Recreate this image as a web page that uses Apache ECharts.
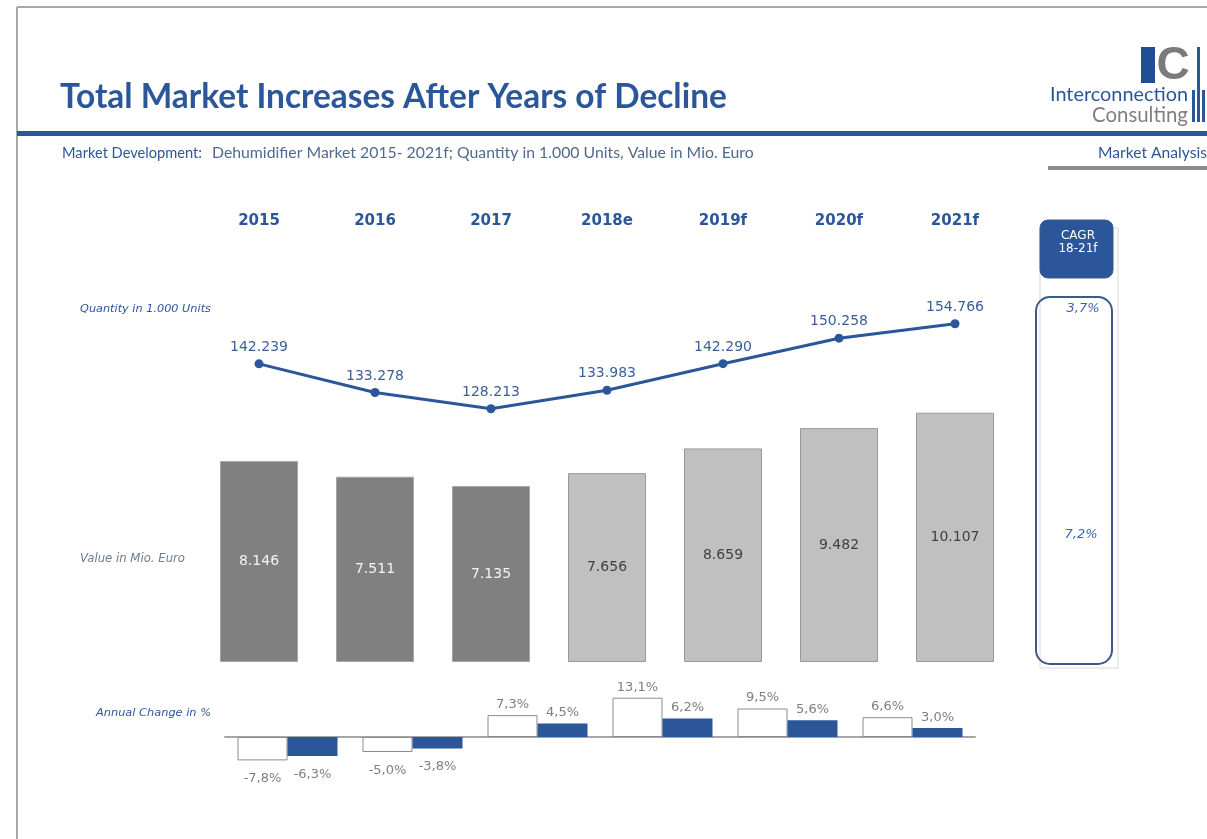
<!DOCTYPE html>
<html>
<head>
<meta charset="utf-8">
<script src="https://cdn.jsdelivr.net/npm/echarts@6/dist/echarts.min.js"></script>
<style>
html,body{margin:0;padding:0;background:#fff;}
#chart{width:1207px;height:839px;}
</style>
</head>
<body>
<div id="chart"></div>
<script>
// ---- data ----
var years = ['2015', '2016', '2017', '2018e', '2019f', '2020f', '2021f'];
var quantity = [142.239, 133.278, 128.213, 133.983, 142.290, 150.258, 154.766];
var valueMio = [8.146, 7.511, 7.135, 7.656, 8.659, 9.482, 10.107];
var changeYears = ['2016', '2017', '2018e', '2019f', '2020f', '2021f'];
var valueChange = [-7.8, -5.0, 7.3, 13.1, 9.5, 6.6];
var quantityChange = [-6.3, -3.8, 4.5, 6.2, 5.6, 3.0];
var cagrQuantity = '3,7%';
var cagrValue = '7,2%';

var FONT = 'Lato,"Liberation Sans",sans-serif';
var FONT2 = '"DejaVu Sans","Liberation Sans",sans-serif';
var BLUE = '#2b579a';

function fmtThousand(v){ return v.toFixed(3); }
function fmtPct(v){ return v.toFixed(1).replace('.', ',') + '%'; }

// fit a font size so that text spans a target width
var _ctx = document.createElement('canvas').getContext('2d');
function fitFont(text, style, family, width){
  _ctx.font = style + ' 100px ' + family;
  var w = _ctx.measureText(text).width;
  return style + ' ' + (100 * width / w).toFixed(2) + 'px ' + family;
}

var chart = echarts.init(document.getElementById('chart'));

var barData = valueMio.map(function(v, i){
  var dark = i < 3;
  return {
    value: v,
    itemStyle: { color: dark ? '#808080' : '#c0c0c0', borderColor: dark ? '#a6a6a6' : '#999999', borderWidth: 1 },
    label: { color: dark ? '#f4f4f4' : '#404040' }
  };
});

function changeData(arr){
  return arr.map(function(v){ return { value: v, label: { position: v < 0 ? 'bottom' : 'top', distance: v < 0 ? 12 : 4 } }; });
}

var titleText = 'Total Market Increases After Years of Decline';
var subA = 'Market Development:';
var subB = 'Dehumidifier Market 2015- 2021f; Quantity in 1.000 Units, Value in Mio. Euro';

var option = {
  animation: false,
  backgroundColor: '#ffffff',
  grid: [
    { left: 201, top: 366, width: 812, height: 296 },
    { left: 201, top: 307, width: 812, height: 192 },
    { left: 225, top: 677, width: 750, height: 120 }
  ],
  xAxis: [
    { gridIndex: 0, type: 'category', data: years, axisLine: {show:false}, axisTick:{show:false}, axisLabel:{show:false} },
    { gridIndex: 1, type: 'category', data: years, position: 'top', offset: 86,
      axisLine: {show:false}, axisTick:{show:false},
      axisLabel: { show: true, margin: 0, verticalAlign: 'middle', color: '#2b579a', fontSize: 15, fontWeight: 'bold', fontFamily: FONT2 } },
    { gridIndex: 2, type: 'category', data: changeYears, axisTick:{show:false}, axisLabel:{show:false},
      axisLine: { show: true, onZero: true, lineStyle: { color: '#a6a6a6', width: 2 } } }
  ],
  yAxis: [
    { gridIndex: 0, type: 'value', min: 0, max: 12, show: false },
    { gridIndex: 1, type: 'value', min: 100, max: 160, show: false },
    { gridIndex: 2, type: 'value', min: -20, max: 20, show: false }
  ],
  series: [
    {
      type: 'bar', xAxisIndex: 0, yAxisIndex: 0, data: barData, barWidth: 78,
      label: { show: true, position: 'inside', formatter: function(p){ return fmtThousand(p.value); }, fontSize: 14, fontFamily: FONT2 }
    },
    {
      type: 'line', xAxisIndex: 1, yAxisIndex: 1, data: quantity,
      symbol: 'circle', symbolSize: 9,
      lineStyle: { color: BLUE, width: 3 }, itemStyle: { color: BLUE },
      label: { show: true, position: 'top', distance: 5, formatter: function(p){ return fmtThousand(p.value); }, color: '#3a5f99', fontSize: 14, fontFamily: FONT2 }
    },
    {
      type: 'bar', xAxisIndex: 2, yAxisIndex: 2, data: changeData(valueChange), barWidth: 50, barGap: '0%',
      itemStyle: { color: '#ffffff', borderColor: '#8c8c8c', borderWidth: 1 },
      label: { show: true, color: '#7f7f7f', fontSize: 13, fontFamily: FONT2, formatter: function(p){ return fmtPct(p.value); } }
    },
    {
      type: 'bar', xAxisIndex: 2, yAxisIndex: 2, data: changeData(quantityChange), barWidth: 50, barGap: '0%',
      itemStyle: { color: BLUE },
      label: { show: true, color: '#7f7f7f', fontSize: 13, fontFamily: FONT2, formatter: function(p){ return fmtPct(p.value); } }
    }
  ],
  graphic: [
    // page frame
    { type: 'line', shape: { x1: 17, y1: 7, x2: 1207, y2: 7 }, style: { stroke: '#a8a8a8', lineWidth: 2 } },
    { type: 'line', shape: { x1: 17, y1: 7, x2: 17, y2: 839 }, style: { stroke: '#a8a8a8', lineWidth: 2 } },
    // title
    { type: 'text', x: 60, y: 97, style: { text: titleText, fill: '#2b579a', font: fitFont(titleText, 'bold', FONT, 667), verticalAlign: 'middle' } },
    { type: 'rect', shape: { x: 17, y: 131, width: 1190, height: 5 }, style: { fill: BLUE } },
    // subtitle
    { type: 'text', x: 62, y: 153, style: { text: subA, fill: '#2b579a', font: fitFont(subA, 'normal', FONT, 140), verticalAlign: 'middle' } },
    { type: 'text', x: 212, y: 153, style: { text: subB, fill: '#4f6a8f', font: fitFont(subB, 'normal', FONT, 542), verticalAlign: 'middle' } },
    { type: 'text', x: 1098, y: 153, style: { text: 'Market Analysis', fill: '#2b579a', font: fitFont('Market Analysis', 'normal', FONT, 109), verticalAlign: 'middle' } },
    { type: 'rect', shape: { x: 1048, y: 166, width: 159, height: 4 }, style: { fill: '#8a8a8a' } },
    // logo
    { type: 'rect', shape: { x: 1141, y: 47, width: 14, height: 36 }, style: { fill: '#1f4e93' } },
    { type: 'text', x: 1173, y: 66, style: { text: 'C', fill: '#7a7a7a', font: 'bold 46px "Liberation Sans",sans-serif', align: 'center', verticalAlign: 'middle' } },
    { type: 'text', x: 1050, y: 95, style: { text: 'Interconnection', fill: '#2b579a', font: fitFont('Interconnection', 'normal', FONT, 138), verticalAlign: 'middle' } },
    { type: 'text', x: 1092, y: 115, style: { text: 'Consulting', fill: '#7f7f7f', font: fitFont('Consulting', 'normal', FONT, 96), verticalAlign: 'middle' } },
    { type: 'rect', shape: { x: 1192, y: 90, width: 3, height: 32 }, style: { fill: BLUE } },
    { type: 'rect', shape: { x: 1197, y: 47, width: 3, height: 75 }, style: { fill: BLUE } },
    { type: 'rect', shape: { x: 1202, y: 90, width: 3, height: 32 }, style: { fill: BLUE } },
    // row labels
    { type: 'text', x: 80, y: 309, style: { text: 'Quantity in 1.000 Units', fill: '#2b579a', font: fitFont('Quantity in 1.000 Units', 'italic', FONT2, 131), verticalAlign: 'middle' } },
    { type: 'text', x: 80, y: 559, style: { text: 'Value in Mio. Euro', fill: '#6e7c91', font: fitFont('Value in Mio. Euro', 'italic', FONT2, 105), verticalAlign: 'middle' } },
    { type: 'text', x: 96, y: 713, style: { text: 'Annual Change in %', fill: '#2b579a', font: fitFont('Annual Change in %', 'italic', FONT2, 115), verticalAlign: 'middle' } },
    // CAGR column
    { type: 'rect', shape: { x: 1040, y: 228, width: 78, height: 440 }, style: { fill: 'none', stroke: '#d9d9d9', lineWidth: 1 } },
    { type: 'rect', shape: { x: 1040, y: 220, width: 73, height: 58, r: 8 }, style: { fill: BLUE, stroke: '#3c5a85', lineWidth: 1 } },
    { type: 'text', x: 1078, y: 242, style: { text: 'CAGR\n18-21f', fill: '#ffffff', font: '12px ' + FONT2, align: 'center', verticalAlign: 'middle', lineHeight: 13 } },
    { type: 'rect', shape: { x: 1036, y: 297, width: 76, height: 367, r: 14 }, style: { fill: 'none', stroke: '#3c5a85', lineWidth: 2 } },
    { type: 'text', x: 1083, y: 309, style: { text: cagrQuantity, fill: '#3a64a8', font: 'italic 13px ' + FONT2, align: 'center', verticalAlign: 'middle' } },
    { type: 'text', x: 1081, y: 535, style: { text: cagrValue, fill: '#3a64a8', font: 'italic 13px ' + FONT2, align: 'center', verticalAlign: 'middle' } }
  ]
};

chart.setOption(option);
</script>
</body>
</html>
